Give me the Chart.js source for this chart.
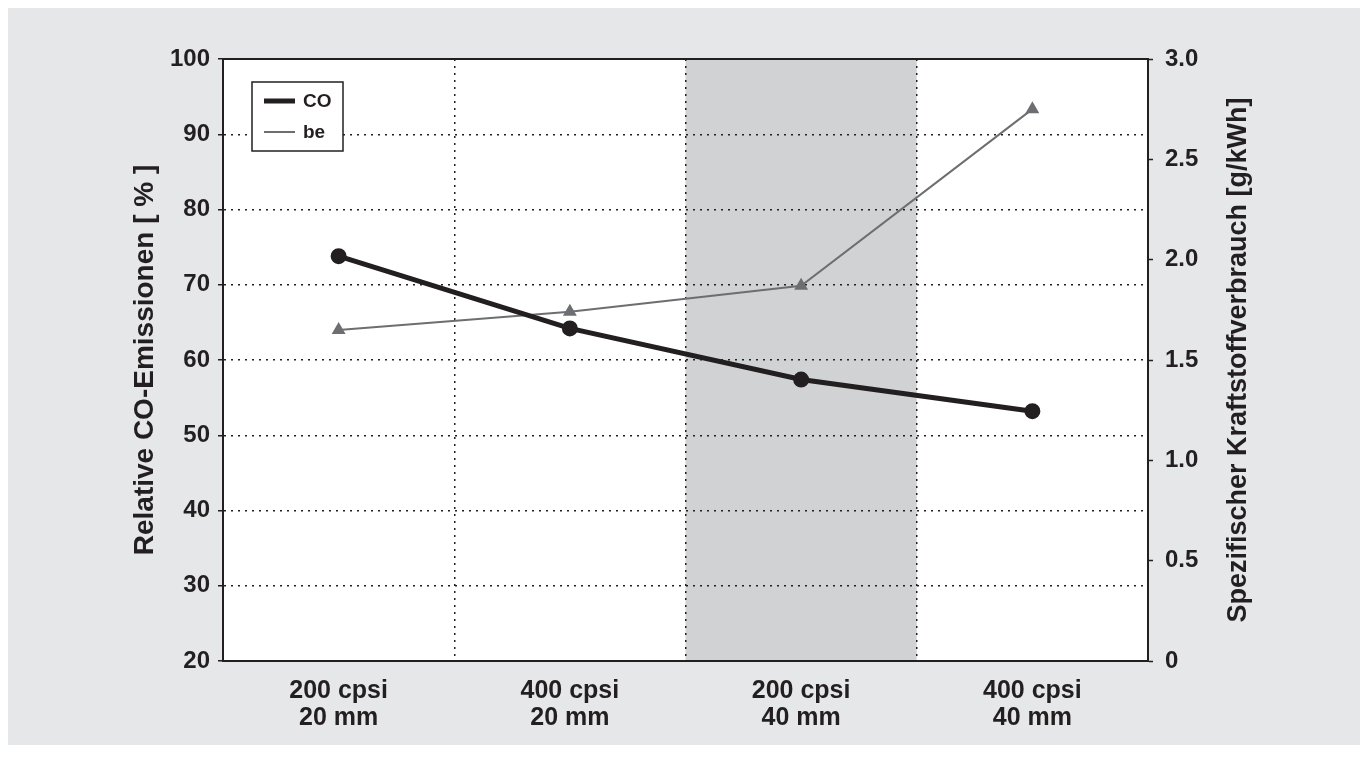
<!DOCTYPE html>
<html>
<head>
<meta charset="utf-8">
<script src="https://cdn.jsdelivr.net/npm/chart.js@4/dist/chart.umd.min.js"></script>
<style>
    html, body { margin: 0; padding: 0; background: #ffffff; }
    #wrap { position: absolute; left: 0; top: 0; width: 1360px; height: 760px; }
</style>
</head>
<body>
<div id="wrap"><canvas id="chart" width="1360" height="760"></canvas></div>
<script>
// data
const categories = [['200 cpsi', '20 mm'], ['400 cpsi', '20 mm'], ['200 cpsi', '40 mm'], ['400 cpsi', '40 mm']];
const coValues = [73.8, 64.2, 57.4, 53.2];     // Relative CO-Emissionen [%]
const beValues = [1.65, 1.74, 1.87, 2.75];     // Spezifischer Kraftstoffverbrauch [g/kWh]
const leftTicks = [20, 30, 40, 50, 60, 70, 80, 90, 100];
const rightTicks = [0, 0.5, 1.0, 1.5, 2.0, 2.5, 3.0];
const highlightIndex = 2;

const ink = '#231f20';
const font = '"Liberation Sans", Arial, sans-serif';

// background, shaded column, frame, legend and right axis title
const decorPlugin = {
    id: 'decor',
    beforeDraw(chart) {
        const ctx = chart.ctx;
        const a = chart.chartArea;
        const xs = chart.scales.x;
        ctx.save();
        ctx.fillStyle = '#e6e7e8';
        ctx.fillRect(8, 8, chart.width - 8, 737);
        ctx.fillStyle = '#ffffff';
        ctx.fillRect(a.left, a.top, a.right - a.left, a.bottom - a.top);
        const half = (xs.getPixelForValue(1) - xs.getPixelForValue(0)) / 2;
        const cx = xs.getPixelForValue(highlightIndex);
        ctx.fillStyle = '#d1d2d4';
        ctx.fillRect(cx - half, a.top, half * 2, a.bottom - a.top);
        ctx.restore();
    },
    afterDraw(chart) {
        const ctx = chart.ctx;
        const a = chart.chartArea;
        ctx.save();
        // top frame line
        ctx.strokeStyle = ink;
        ctx.lineWidth = 2;
        ctx.beginPath();
        ctx.moveTo(a.left - 1, a.top);
        ctx.lineTo(a.right + 1, a.top);
        ctx.stroke();

        // right axis title, reading bottom to top
        ctx.fillStyle = ink;
        ctx.font = 'bold 27px ' + font;
        ctx.textAlign = 'center';
        ctx.textBaseline = 'middle';
        ctx.translate(1239, (a.top + a.bottom) / 2);
        ctx.rotate(-Math.PI / 2);
        ctx.fillText('Spezifischer Kraftstoffverbrauch [g/kWh]', 0, 0);
        ctx.restore();

        // legend box
        ctx.save();
        const lx = a.left + 29, ly = a.top + 23;
        ctx.fillStyle = '#ffffff';
        ctx.fillRect(lx, ly, 91, 69);
        ctx.strokeStyle = ink;
        ctx.lineWidth = 1.5;
        ctx.strokeRect(lx, ly, 91, 69);
        ctx.font = 'bold 19px ' + font;
        ctx.textBaseline = 'middle';
        chart.data.datasets.forEach((ds, i) => {
            const y = ly + 19 + i * 31;
            ctx.strokeStyle = ds.borderColor;
            ctx.lineWidth = ds.borderWidth;
            ctx.beginPath();
            ctx.moveTo(lx + 12, y);
            ctx.lineTo(lx + 43, y);
            ctx.stroke();
            ctx.fillStyle = ink;
            ctx.fillText(ds.label, lx + 51, y + 1);
        });
        ctx.restore();
    }
};

const dottedGrid = {
    color: ink,
    lineWidth: 1.5,
    tickBorderDash: [],
    tickColor: ink,
    tickWidth: 1.5
};
const solidBorder = { display: true, color: ink, width: 2, dash: [2, 5] };

new Chart(document.getElementById('chart'), {
    type: 'line',
    data: {
        labels: categories,
        datasets: [
            {
                label: 'CO',
                data: coValues,
                yAxisID: 'y',
                borderColor: ink,
                backgroundColor: ink,
                borderWidth: 5,
                pointStyle: 'circle',
                pointRadius: 5.5,
                tension: 0
            },
            {
                label: 'be',
                data: beValues,
                yAxisID: 'y2',
                borderColor: '#6d6e71',
                backgroundColor: '#6d6e71',
                borderWidth: 2,
                pointStyle: 'triangle',
                pointRadius: 8,
                pointBorderWidth: 0,
                tension: 0
            }
        ]
    },
    options: {
        responsive: false,
        animation: false,
        layout: { padding: { left: 124, right: 107, top: 59, bottom: 0 } },
        plugins: {
            legend: { display: false },
            tooltip: { enabled: false }
        },
        scales: {
            x: {
                offset: true,
                grid: { ...dottedGrid, offset: true, drawTicks: false },
                border: solidBorder,
                ticks: {
                    color: ink,
                    padding: 16,
                    maxRotation: 0,
                    font: { family: font, size: 25, weight: 'bold', lineHeight: 1.1 }
                },
                afterFit(scale) { scale.height = 99; }
            },
            y: {
                position: 'left',
                min: 20,
                max: 100,
                afterBuildTicks(scale) { scale.ticks = leftTicks.map(v => ({ value: v })); },
                grid: { ...dottedGrid, tickLength: 5 },
                border: solidBorder,
                ticks: {
                    color: ink,
                    padding: 8,
                    font: { family: font, size: 24, weight: 'bold' }
                },
                title: {
                    display: true,
                    text: 'Relative CO-Emissionen [ % ]',
                    color: ink,
                    padding: 4,
                    font: { family: font, size: 28, weight: 'bold', lineHeight: 1.2 }
                },
                afterFit(scale) { scale.width = 99; }
            },
            y2: {
                position: 'right',
                min: 0,
                max: 3,
                afterBuildTicks(scale) { scale.ticks = rightTicks.map(v => ({ value: v })); },
                grid: { drawOnChartArea: false, tickLength: 5, tickColor: ink, tickWidth: 1.5, tickBorderDash: [] },
                border: { display: true, color: ink, width: 2 },
                ticks: {
                    color: ink,
                    padding: 12,
                    font: { family: font, size: 24, weight: 'bold' },
                    callback: v => v === 0 ? '0' : v.toFixed(1)
                },
                afterFit(scale) { scale.width = 105; }
            }
        }
    },
    plugins: [decorPlugin]
});
</script>
</body>
</html>
